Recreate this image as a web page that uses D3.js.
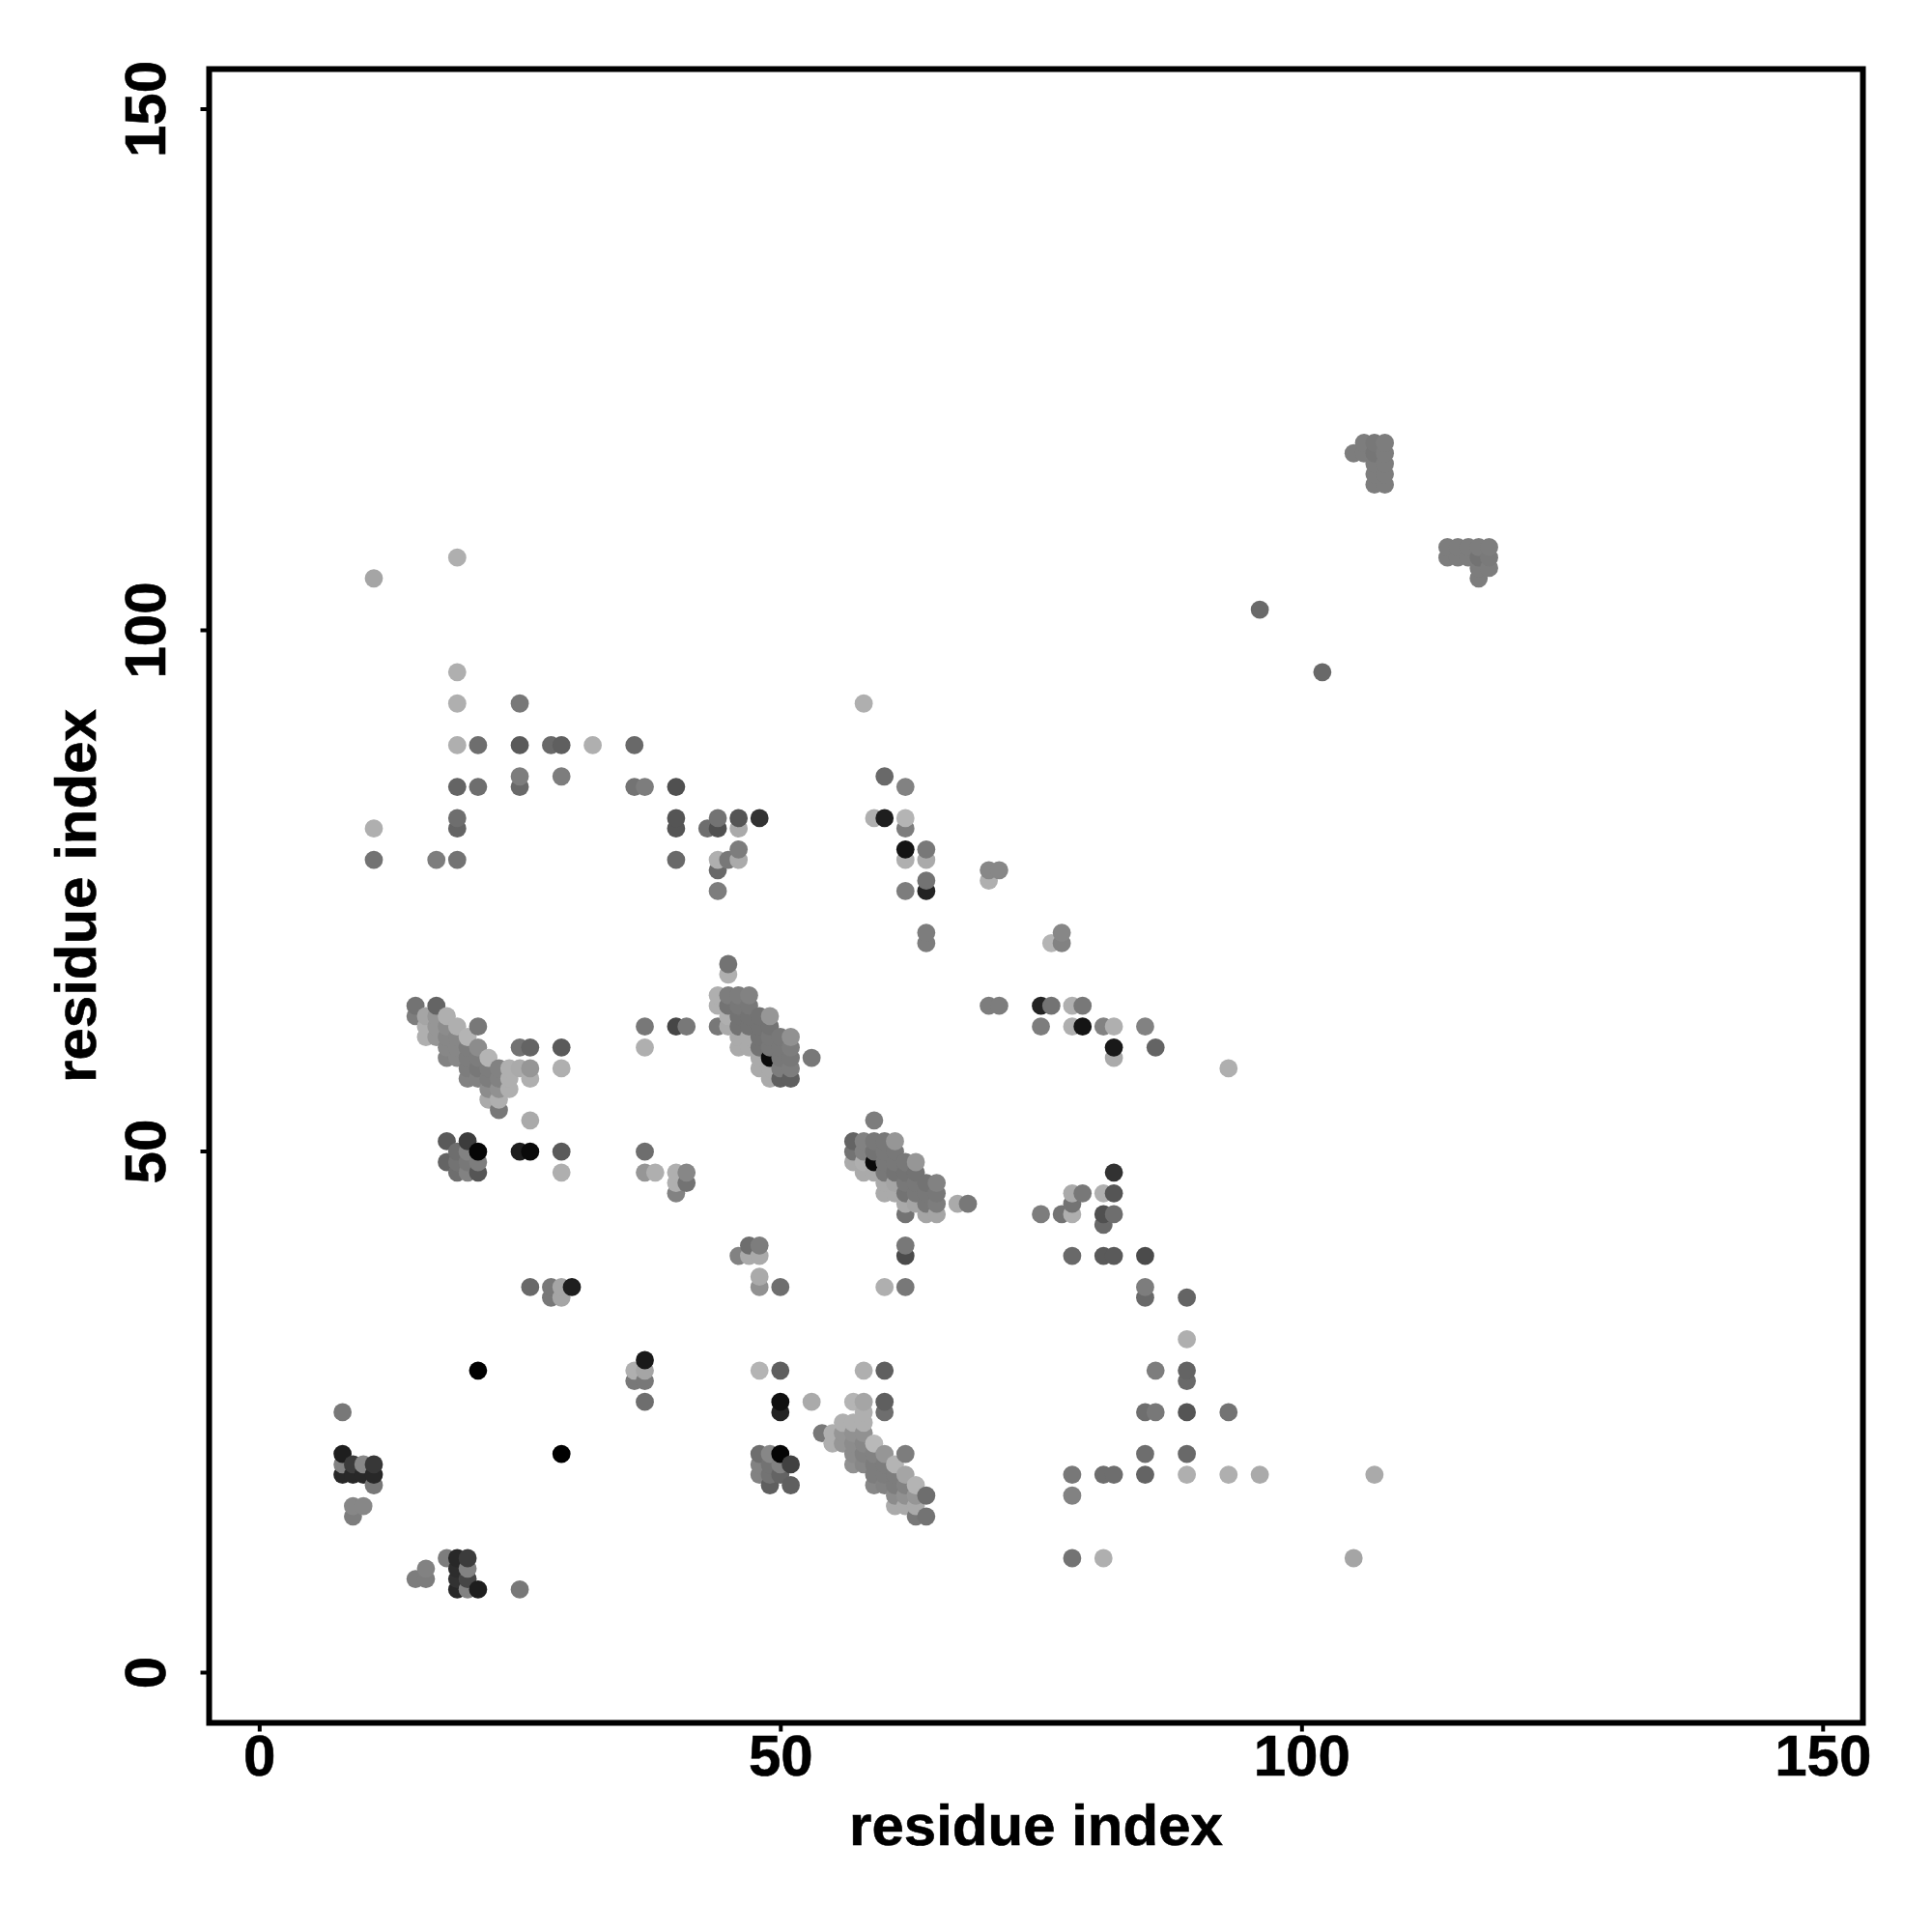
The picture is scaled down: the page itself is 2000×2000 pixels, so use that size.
<!DOCTYPE html>
<html>
<head>
<meta charset="utf-8">
<script src="https://cdn.jsdelivr.net/npm/d3@7/dist/d3.min.js"></script>
<style>html,body{margin:0;padding:0;background:#fff}</style>
</head>
<body>
<svg id="chart" width="2000" height="2000"></svg>
<script>
const tickValues = [0, 50, 100, 150];
const axisTitle = "residue index";

// each mark: [residue x, residue y, grey level]
const clusterA = [[21,29,0],[29,21,0],[8,25,120],[8,21,30],[8,20,130],[9,20,60],[10,20,135],[11,20,55],[8,19,40],[9,19,40],[10,19,40],[11,19,40],[11,18,120],[9,16,135],[10,16,135],[9,15,125],
[18,11,125],[19,11,40],[20,11,60],[16,10,130],[20,10,130],[19,10,45],[15,9,125],[16,9,125],[19,9,50],[20,9,70],[19,8,40],[20,8,130],[21,8,30],[25,8,120],
[37,30,25],[36,29,175],[37,29,165],[36,28,120],[37,28,120],[37,26,110]];
const clusterB = [[48,29,180],[50,29,95],[58,29,175],[60,29,95],[50,26,15],[50,25,35],[53,26,170],[57,26,180],[58,26,165],[60,26,95],[60,25,110],[58,25,175],
[56,24,175],[57,24,175],[58,24,175],[54,23,120],[55,23,175],[56,23,150],[57,23,145],[58,23,145],[55,22,175],[56,22,150],[57,22,140],[58,22,135],[59,22,185],
[57,21,140],[58,21,130],[59,21,130],[60,21,150],[62,21,125],[57,20,145],[58,20,135],[59,20,125],[60,20,125],[61,20,180],[59,19,125],[60,19,125],[61,19,125],[62,19,165],
[59,18,135],[60,18,130],[61,18,125],[62,18,130],[63,18,180],[61,17,140],[62,17,145],[63,17,150],[64,17,110],[61,16,170],[62,16,170],[63,16,170],[63,15,120],[64,15,115],
[48,21,110],[49,21,135],[50,21,5],[48,20,130],[49,20,115],[50,20,130],[51,20,65],[48,19,130],[49,19,115],[50,19,100],[49,18,95],[51,18,95]];
const clusterC = [[15,64,115],[17,64,100],[15,63,125],[16,63,165],[17,63,150],[18,63,175],[16,62,175],[17,62,150],[18,62,140],[19,62,175],[21,62,120],[16,61,175],[17,61,150],[18,61,135],[19,61,135],[20,61,180],
[18,60,135],[19,60,135],[20,60,125],[21,60,140],[25,60,115],[26,60,100],[29,60,90],[18,59,130],[19,59,135],[20,59,125],[21,59,125],[22,59,180],
[20,58,125],[21,58,120],[22,58,125],[23,58,130],[24,58,175],[25,58,170],[26,58,150],[29,58,175],[20,57,130],[21,57,130],[22,57,125],[23,57,130],[24,57,175],[26,57,175],
[22,56,140],[23,56,145],[24,56,175],[22,55,170],[23,55,175],[23,54,120],[26,53,170],[18,51,90],[20,51,60],[19,50,110],[20,50,130],[21,50,5],[25,50,30],[26,50,10],[29,50,90],[37,50,110],
[18,49,100],[19,49,115],[20,49,120],[21,49,125],[19,48,110],[20,48,130],[21,48,85],[29,48,175],[37,48,150],[38,48,175],[40,48,175],[41,48,135],[40,47,175],[41,47,115],[40,46,130],
[37,62,120],[40,62,70],[41,62,120],[37,60,175]];
const clusterD = [[45,68,115],[45,67,175],[44,65,175],[45,65,125],[46,65,125],[47,65,130],[44,64,175],[45,64,115],[46,64,120],[47,64,120],[45,63,175],[46,63,115],[47,63,115],[48,63,115],[49,63,150],
[44,62,120],[45,62,170],[46,62,115],[47,62,115],[48,62,115],[49,62,115],[46,61,170],[47,61,170],[48,61,115],[49,61,120],[50,61,120],[51,61,145],[46,60,170],[47,60,170],[48,60,115],[49,60,120],[50,60,120],[51,60,125],
[48,59,170],[49,59,10],[50,59,120],[51,59,120],[53,59,120],[48,58,170],[49,58,170],[50,58,125],[51,58,125],[49,57,170],[50,57,95],[51,57,95]];
const clusterE = [[59,53,125],[57,51,100],[58,51,130],[59,51,120],[60,51,120],[61,51,150],[57,50,115],[58,50,130],[59,50,115],[60,50,120],[61,50,120],[57,49,170],[58,49,175],[59,49,10],[60,49,120],[61,49,120],[62,49,120],[63,49,150],
[58,48,170],[59,48,170],[60,48,120],[61,48,115],[62,48,115],[63,48,115],[60,47,170],[61,47,165],[62,47,120],[63,47,120],[64,47,115],[65,47,130],[60,46,170],[61,46,170],[62,46,115],[63,46,120],[64,46,120],[65,46,120],
[62,45,170],[63,45,165],[64,45,120],[65,45,125],[67,45,170],[68,45,120],[62,44,115],[64,44,165],[65,44,165]];
const clusterF = [[105,117,125],[106,118,125],[107,118,120],[108,118,125],[106,117,125],[107,117,118],[108,117,125],[107,116,125],[108,116,125],[107,115,125],[108,115,125],[107,114,125],[108,114,125],
[114,108,125],[115,108,125],[116,108,125],[117,108,125],[118,108,125],[114,107,125],[115,107,125],[116,107,125],[117,107,115],[118,107,122],[117,106,125],[118,106,125],[117,105,125],[96,102,105],[102,96,105]];
const clusterG = [[19,107,175],[11,105,165],[19,96,175],[19,93,175],[25,93,120],[19,89,175],[21,89,110],[25,89,90],[28,89,105],[29,89,95],[32,89,175],[36,89,105],[25,86,125],[29,86,125],
[19,85,100],[21,85,110],[25,85,105],[36,85,115],[37,85,125],[40,85,80],[19,82,110],[40,82,85],[44,82,115],[46,82,85],[48,82,50],[11,81,175],[19,81,100],[40,81,85],[43,81,110],[44,81,80],[46,81,170],
[46,79,125],[11,78,115],[17,78,125],[19,78,115],[40,78,105],[44,78,175],[45,78,120],[46,78,170],[44,77,105],[44,75,125]];
const clusterH = [[58,93,175],[60,86,105],[62,85,130],[59,82,175],[60,82,30],[62,82,180],[62,81,125],[62,79,20],[64,79,120],[62,78,175],[64,78,170],[64,76,115],[64,75,35],[62,75,125],[64,71,125],[64,70,125],
[70,77,135],[71,77,135],[70,76,175],[77,71,135],[77,70,130],[76,70,180],[70,64,125],[71,64,125],[75,64,35],[76,64,115],[78,64,175],[79,64,120],[75,62,125],[78,62,175],[79,62,20],[81,62,130],[82,62,175],[85,62,130],[82,60,25],[86,60,100],[82,59,170],[93,58,175]];
const clusterI = [[82,48,50],[78,46,170],[79,46,120],[81,46,175],[82,46,85],[78,45,115],[75,44,125],[77,44,115],[78,44,175],[81,44,80],[82,44,110],[81,43,105],[78,40,105],[81,40,90],[82,40,90],[85,40,75],[85,37,125],[85,36,105],[89,36,100],[89,32,175],
[86,29,125],[89,29,100],[89,28,105],[85,25,110],[86,25,120],[89,25,85],[93,25,115],[85,21,110],[89,21,105],[78,19,120],[81,19,110],[82,19,110],[85,19,100],[89,19,175],[93,19,175],[96,19,170],[107,19,170],[78,17,130],[78,11,115],[81,11,175],[105,11,165]];
const clusterJ = [[26,37,105],[28,37,120],[29,37,165],[30,37,30],[28,36,120],[29,36,165],[47,41,110],[48,41,125],[46,40,130],[47,40,170],[48,40,170],[48,38,170],[48,37,145],[50,37,110],[60,37,175],[62,37,120],[62,41,120],[62,40,75]];

const marks = [clusterA, clusterB, clusterC, clusterD, clusterE, clusterF, clusterG, clusterH, clusterI, clusterJ]
  .flat()
  .sort((a, b) => d3.ascending(a[0], b[0]) || d3.ascending(a[1], b[1]));

const frame = {left: 216.5, right: 1928.5, top: 71.5, bottom: 1783.5};
const unit = 10.79, x0 = 268.3, y0 = 1731;
const x = d3.scaleLinear()
  .domain([(frame.left - x0) / unit, (frame.right - x0) / unit])
  .range([frame.left, frame.right]);
const y = d3.scaleLinear()
  .domain([(y0 - frame.bottom) / unit, (y0 - frame.top) / unit])
  .range([frame.bottom, frame.top]);

const svg = d3.select("#chart");
const font = "'Liberation Sans', Arial, sans-serif";

svg.append("g").selectAll("circle").data(marks).join("circle")
  .attr("cx", d => x(d[0]))
  .attr("cy", d => y(d[1]) + 0.7)
  .attr("r", 9.4)
  .attr("fill", d => d3.rgb(d[2], d[2], d[2]));

const gx = svg.append("g").attr("transform", `translate(0,${frame.bottom})`)
  .call(d3.axisBottom(x).tickValues(tickValues).tickSize(9).tickFormat(d3.format("d")));
const gy = svg.append("g").attr("transform", `translate(${frame.left},0)`)
  .call(d3.axisLeft(y).tickValues(tickValues).tickSize(9).tickFormat(d3.format("d")));
[gx, gy].forEach(g => {
  g.select(".domain").remove();
  g.selectAll("line").attr("stroke", "#000").attr("stroke-width", 4);
  g.selectAll("text").attr("fill", "#000")
    .style("font-family", font).style("font-weight", "bold").style("font-size", "60px")
    .style("stroke", "#000").style("stroke-width", "0.6px");
});
gx.selectAll("text").attr("y", 0).attr("dy", 0)
  .attr("transform", `translate(0,${1838 - frame.bottom})`).attr("text-anchor", "middle");
gy.selectAll("text").attr("x", 0).attr("dy", 0)
  .attr("transform", `translate(${171 - frame.left},0) rotate(-90)`).attr("text-anchor", "middle");

svg.append("rect")
  .attr("x", frame.left).attr("y", frame.top)
  .attr("width", frame.right - frame.left).attr("height", frame.bottom - frame.top)
  .attr("fill", "none").attr("stroke", "#000").attr("stroke-width", 6);

svg.append("text").text(axisTitle)
  .attr("x", (frame.left + frame.right) / 2).attr("y", 1910)
  .attr("text-anchor", "middle")
  .style("font-family", font).style("font-weight", "bold").style("font-size", "60px")
  .style("stroke", "#000").style("stroke-width", "0.6px");
svg.append("text").text(axisTitle)
  .attr("transform", `translate(99,${(frame.top + frame.bottom) / 2}) rotate(-90)`)
  .attr("text-anchor", "middle")
  .style("font-family", font).style("font-weight", "bold").style("font-size", "60px")
  .style("stroke", "#000").style("stroke-width", "0.6px");
</script>
</body>
</html>
